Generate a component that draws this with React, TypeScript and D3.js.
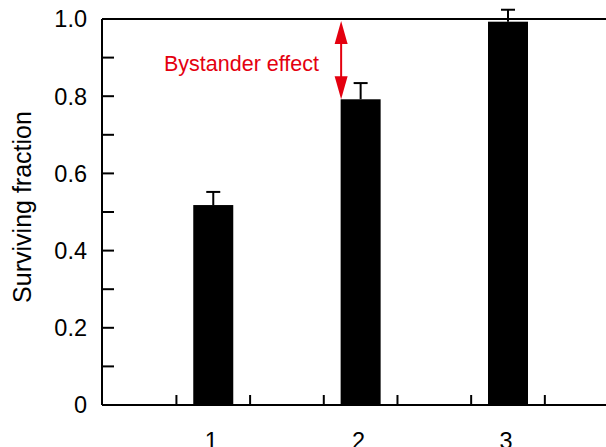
import React from 'react';
import * as d3 from 'd3';

// data
const categories = [1, 2, 3];
const survival = [0.518, 0.792, 0.993];
const errors = [0.034, 0.042, 0.031];
const yTicks = [0, 0.2, 0.4, 0.6, 0.8, 1.0];
const yMinorTicks = [0.1, 0.2, 0.3, 0.4, 0.5, 0.6, 0.7, 0.8, 0.9];
const xTickOffsets = [-0.25, 0.25];
const annotation = 'Bystander effect';

const width = 606;
const height = 447;
const margin = { left: 102, right: 0, top: 19, bottom: 42 };

const App = () => {
  const x = d3.scaleLinear()
    .domain([0.245, 3.665])
    .range([margin.left, width - margin.right]);
  const y = d3.scaleLinear()
    .domain([0, 1])
    .range([height - margin.bottom, margin.top]);

  const barW = 40;
  const capW = 14;
  const red = '#e4000f';
  const font = '"Liberation Sans", Arial, Helvetica, sans-serif';

  // arrow between bar 2 and 1.0
  const ax = x(categories[1]) - barW / 2 + 0.5;
  const aTop = y(1) + 2;
  const aBot = y(survival[1]);
  const headL = 23;
  const headW = 13;

  return (
    <svg width={width} height={height} style={{ position: 'absolute', left: 0, top: 0, background: '#fff' }}>
      {/* frame: left, bottom, top */}
      <g stroke="#000" strokeWidth={2} fill="none">
        <line x1={x.range()[0]} x2={x.range()[1]} y1={y(0)} y2={y(0)} />
        <line x1={x.range()[0]} x2={x.range()[1]} y1={y(1)} y2={y(1)} />
        <line x1={x.range()[0]} x2={x.range()[0]} y1={y(0)} y2={y(1)} />
        {yMinorTicks.map(t => (
          <line key={t} x1={x.range()[0]} x2={x.range()[0] + 12} y1={y(t)} y2={y(t)} />
        ))}
        {categories.flatMap(c => xTickOffsets.map(o => (
          <line key={`${c}${o}`} x1={x(c + o)} x2={x(c + o)} y1={y(0)} y2={y(0) - 10} />
        )))}
      </g>

      {/* y tick labels */}
      <g fontFamily={font} fontSize={23.5} fill="#000" textAnchor="end">
        {yTicks.map(t => (
          <text key={t} x={87} y={y(t)} dy="0.36em">{t === 0 ? '0' : t.toFixed(1)}</text>
        ))}
      </g>

      {/* x labels, cut off at the bottom like the reference */}
      <g fontFamily={font} fontSize={23.5} fill="#000" textAnchor="middle">
        {categories.map(c => (
          <text key={c} x={x(c) - 2} y={y(0) + 44}>{c}</text>
        ))}
      </g>

      <text
        transform={`translate(31, ${(y(0) + y(1)) / 2 - 5}) rotate(-90)`}
        textAnchor="middle"
        fontFamily={font}
        fontSize={25}
        fill="#000"
      >Surviving fraction</text>

      {/* bars */}
      <g fill="#000">
        {categories.map((c, i) => (
          <rect key={c} x={x(c) - barW / 2} y={y(survival[i])} width={barW} height={y(0) - y(survival[i])} />
        ))}
      </g>

      {/* error bars */}
      <g stroke="#000" strokeWidth={2}>
        {categories.map((c, i) => (
          <g key={c}>
            <line x1={x(c)} x2={x(c)} y1={y(survival[i])} y2={y(survival[i] + errors[i])} />
            <line x1={x(c) - capW / 2} x2={x(c) + capW / 2} y1={y(survival[i] + errors[i])} y2={y(survival[i] + errors[i])} />
          </g>
        ))}
      </g>

      {/* bystander arrow */}
      <g fill={red} stroke={red}>
        <line x1={ax} x2={ax} y1={aTop + headL - 2} y2={aBot - headL + 2} strokeWidth={2} />
        <path d={`M${ax},${aTop} L${ax - headW / 2},${aTop + headL} L${ax + headW / 2},${aTop + headL} Z`} stroke="none" />
        <path d={`M${ax},${aBot} L${ax - headW / 2},${aBot - headL} L${ax + headW / 2},${aBot - headL} Z`} stroke="none" />
      </g>
      <text x={164} y={71} fontFamily={font} fontSize={21.5} fill={red}>{annotation}</text>
    </svg>
  );
};

export default App;
